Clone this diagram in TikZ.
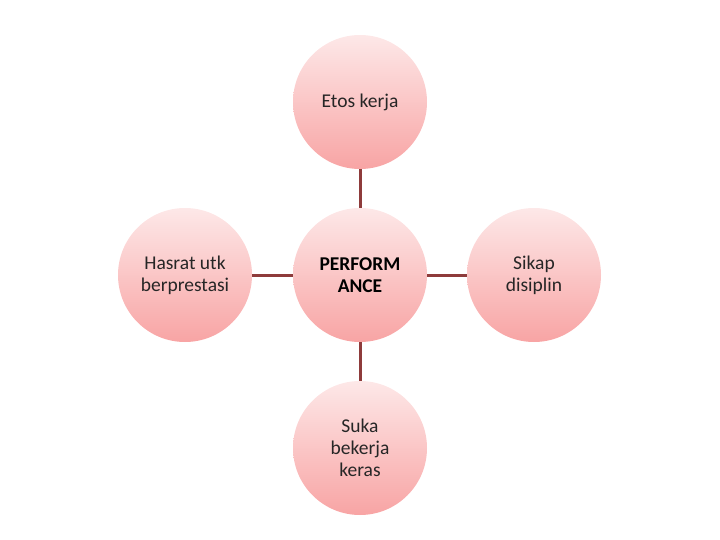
\documentclass[tikz,border=0pt]{standalone}
\usepackage{fontspec}
\setmainfont{Carlito}
\definecolor{toppink}{HTML}{FDE8E8}
\definecolor{botpink}{HTML}{F8A4A4}
\definecolor{linkred}{HTML}{8E3B3B}
\begin{document}
\begin{tikzpicture}[x=1pt,y=-1pt,
  bubble/.style={circle,minimum size=134pt,inner sep=0pt,top color=toppink,bottom color=botpink,draw=none,align=center,text=black!85,font=\fontsize{19.5}{22}\selectfont},
  link/.style={draw=linkred,line width=3pt}]
\useasboundingbox (0,0) rectangle (720,540);
\node[bubble] (top) at (360,102) {Etos kerja};
\node[bubble] (left) at (185,275) {Hasrat utk\\berprestasi};
\node[bubble,text=black,font=\fontsize{19.5}{22}\selectfont\bfseries] (mid) at (360,275) {PERFORM\\ANCE};
\node[bubble] (right) at (534,275) {Sikap\\disiplin};
\node[bubble] (bot) at (360,448) {Suka\\bekerja\\keras};
\draw[link] (mid) -- (top);
\draw[link] (mid) -- (left);
\draw[link] (mid) -- (right);
\draw[link] (mid) -- (bot);
\end{tikzpicture}
\end{document}
